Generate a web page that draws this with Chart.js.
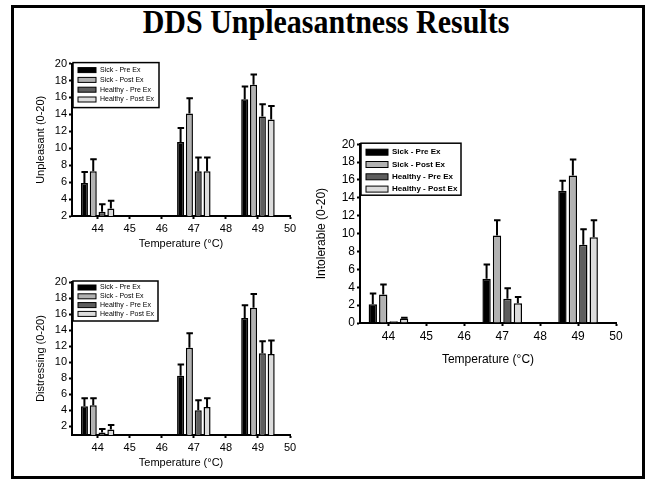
<!DOCTYPE html>
<html>
<head>
<meta charset="utf-8">
<script src="https://cdn.jsdelivr.net/npm/chart.js@4.4.1/dist/chart.umd.min.js"></script>
<style>
  html, body { margin: 0; padding: 0; background: #fff; }
  body { width: 649px; height: 480px; position: relative; overflow: hidden; }
  #frame { position: absolute; left: 11px; top: 5px; width: 634px; height: 474px; box-sizing: border-box; border: 3px solid #000; }
  #title { position: absolute; left: 11px; top: 2px; width: 630px; text-align: center;
           font-family: 'Liberation Serif', 'Times New Roman', serif; font-weight: bold; font-size: 30px; color: #000;
           transform: scaleY(1.15); transform-origin: 50% 0; }
  .box { position: absolute; }
  .box canvas { display: block; }
</style>
</head>
<body>
<div id="frame"></div>
<div id="title">DDS Unpleasantness Results</div>
<div class="box" style="left:30px; top:55px; width:270px; height:200px;"><canvas id="unpChart"></canvas></div>
<div class="box" style="left:30px; top:270px; width:270px; height:204px;"><canvas id="disChart"></canvas></div>
<div class="box" style="left:310px; top:135px; width:316px; height:236px;"><canvas id="intChart"></canvas></div>

<script>
// ============================================================
// DDS Unpleasantness Results – three grouped bar charts
// ============================================================

const temps        = [44, 47, 49];
const xTicks       = [44, 45, 46, 47, 48, 49, 50];
const seriesLabels = ['Sick - Pre Ex', 'Sick - Post Ex', 'Healthy - Pre Ex', 'Healthy - Post Ex'];
const seriesColors = ['#000000', '#b2b2b2', '#5e5e5e', '#dcdcdc'];

// Unpleasant (0-20)
const unpSickPre        = [5.9, 10.75, 15.8];
const unpSickPost       = [7.3, 14.1, 17.5];
const unpHealthyPre     = [2.5, 7.3, 13.75];
const unpHealthyPost    = [2.9, 7.3, 13.4];
const unpSickPreErr     = [1.3, 1.65, 1.5];
const unpSickPostErr    = [1.4, 1.8, 1.2];
const unpHealthyPreErr  = [0.9, 1.6, 1.45];
const unpHealthyPostErr = [0.9, 1.6, 1.6];
const unpTicks          = [2, 4, 6, 8, 10, 12, 14, 16, 18, 20];

// Distressing (0-20)
const disSickPre        = [4.5, 8.3, 15.5];
const disSickPost       = [4.6, 11.8, 16.8];
const disHealthyPre     = [1.2, 4.0, 11.1];
const disHealthyPost    = [1.6, 4.4, 11.0];
const disSickPreErr     = [1.0, 1.4, 1.6];
const disSickPostErr    = [0.9, 1.8, 1.7];
const disHealthyPreErr  = [0.45, 1.25, 1.5];
const disHealthyPostErr = [0.55, 1.1, 1.7];
const disTicks          = [2, 4, 6, 8, 10, 12, 14, 16, 18, 20];

// Intolerable (0-20)
const intSickPre        = [2.1, 4.95, 14.8];
const intSickPost       = [3.2, 9.8, 16.5];
const intHealthyPre     = [0.2, 2.7, 8.75];
const intHealthyPost    = [0.5, 2.2, 9.6];
const intSickPreErr     = [1.2, 1.6, 1.1];
const intSickPostErr    = [1.1, 1.7, 1.8];
const intHealthyPreErr  = [0, 1.2, 1.75];
const intHealthyPostErr = [0.1, 0.7, 1.9];
const intTicks          = [0, 2, 4, 6, 8, 10, 12, 14, 16, 18, 20];

const FONT = "'Liberation Sans', Arial, sans-serif";

/* ── Error bars (upper only, T cap) ─────────────────────── */
const errorBarPlugin = {
  id: 'errorBars',
  afterDatasetsDraw(chart) {
    const ctx = chart.ctx;
    const yScale = chart.scales.y;
    ctx.save();
    ctx.strokeStyle = '#000';
    ctx.lineWidth = 2;
    chart.data.datasets.forEach((ds, di) => {
      const meta = chart.getDatasetMeta(di);
      meta.data.forEach((bar, i) => {
        const err = ds.errors[i];
        if (!err) return;
        const top = yScale.getPixelForValue(ds.data[i].y + err);
        ctx.beginPath();
        ctx.moveTo(bar.x, bar.y);
        ctx.lineTo(bar.x, top);
        ctx.moveTo(bar.x - 3, top);
        ctx.lineTo(bar.x + 3.5, top);
        ctx.stroke();
      });
    });
    ctx.restore();
  }
};

/* ── Boxed legend inside the plot area ──────────────────── */
const boxLegendPlugin = {
  id: 'boxLegend',
  afterDraw(chart, args, opts) {
    const ctx = chart.ctx;
    const a = chart.chartArea;
    const x0 = a.left + 1, y0 = a.top - 1;
    ctx.save();
    ctx.fillStyle = '#fff';
    ctx.fillRect(x0, y0, opts.w, opts.h);
    ctx.strokeStyle = '#000';
    ctx.lineWidth = 1.5;
    ctx.strokeRect(x0, y0, opts.w, opts.h);
    ctx.font = opts.font;
    ctx.textBaseline = 'middle';
    chart.data.datasets.forEach((ds, i) => {
      const cy = y0 + opts.padTop + i * opts.rowH;
      ctx.fillStyle = ds.backgroundColor;
      ctx.fillRect(x0 + 5, cy - opts.swH / 2, opts.swW, opts.swH);
      ctx.lineWidth = 1;
      ctx.strokeStyle = '#000';
      ctx.strokeRect(x0 + 5, cy - opts.swH / 2, opts.swW, opts.swH);
      ctx.fillStyle = '#000';
      ctx.fillText(ds.label, x0 + 9 + opts.swW, cy);
    });
    ctx.restore();
  }
};

function makeDatasets(values, errors) {
  return values.map((vals, i) => ({
    label: seriesLabels[i],
    data: temps.map((t, j) => ({ x: t, y: vals[j] })),
    errors: errors[i],
    backgroundColor: seriesColors[i],
    borderColor: '#000',
    borderWidth: 1.5,
    categoryPercentage: 1.1,
    barPercentage: 0.8
  }));
}

function makeChart(id, cfg) {
  const tickFont = { family: FONT, size: cfg.fontSize };
  return new Chart(document.getElementById(id), {
    type: 'bar',
    data: { datasets: makeDatasets(cfg.values, cfg.errors) },
    options: {
      responsive: true,
      maintainAspectRatio: false,
      animation: false,
      layout: { padding: cfg.padding },
      plugins: {
        legend: { display: false },
        tooltip: { enabled: false },
        boxLegend: cfg.legend
      },
      scales: {
        x: {
          type: 'linear',
          offset: false,
          min: cfg.xMin, max: 50,
          afterBuildTicks: axis => { axis.ticks = xTicks.map(v => ({ value: v })); },
          afterFit: axis => { axis.height = cfg.xHeight; },
          grid: { offset: false, drawOnChartArea: false, drawTicks: true, tickLength: 3, tickWidth: 2, color: '#000' },
          border: { display: true, color: '#000', width: 2 },
          ticks: { color: '#000', font: tickFont, padding: 3, maxRotation: 0 },
          title: { display: true, text: 'Temperature (°C)', color: '#000', font: tickFont, padding: { top: 2, bottom: 4 } }
        },
        y: {
          min: cfg.yMin, max: 20,
          afterBuildTicks: axis => { axis.ticks = cfg.yTicks.map(v => ({ value: v })); },
          afterFit: axis => { axis.width = cfg.yWidth; },
          grid: { drawOnChartArea: false, drawTicks: true, tickLength: 3, tickWidth: 2, color: '#000' },
          border: { display: true, color: '#000', width: 2 },
          ticks: { color: '#000', font: tickFont, padding: 2 },
          title: { display: true, text: cfg.yTitle, color: '#000', font: tickFont, padding: { top: 4, bottom: 2 } }
        }
      }
    },
    plugins: [errorBarPlugin, boxLegendPlugin]
  });
}

document.addEventListener('DOMContentLoaded', () => {
  const smallLegend = { w: 86, h: 45, padTop: 7.5, rowH: 9.8, swW: 18, swH: 5, font: "7px " + FONT };

  makeChart('unpChart', {
    values: [unpSickPre, unpSickPost, unpHealthyPre, unpHealthyPost],
    errors: [unpSickPreErr, unpSickPostErr, unpHealthyPreErr, unpHealthyPostErr],
    yTitle: 'Unpleasant (0-20)', yTicks: unpTicks, yMin: 2, xMin: 43.2,
    fontSize: 11, yWidth: 42, xHeight: 39,
    padding: { top: 7, right: 10, left: 0, bottom: 0 },
    legend: smallLegend
  });

  makeChart('disChart', {
    values: [disSickPre, disSickPost, disHealthyPre, disHealthyPost],
    errors: [disSickPreErr, disSickPostErr, disHealthyPreErr, disHealthyPostErr],
    yTitle: 'Distressing (0-20)', yTicks: disTicks, yMin: 0.9, xMin: 43.2,
    fontSize: 11, yWidth: 42, xHeight: 39,
    padding: { top: 12, right: 10, left: 0, bottom: 0 },
    legend: { w: 85, h: 40, padTop: 6.5, rowH: 8.8, swW: 18, swH: 5, font: "7px " + FONT }
  });

  makeChart('intChart', {
    values: [intSickPre, intSickPost, intHealthyPre, intHealthyPost],
    errors: [intSickPreErr, intSickPostErr, intHealthyPreErr, intHealthyPostErr],
    yTitle: 'Intolerable (0-20)', yTicks: intTicks, yMin: 0, xMin: 43.25,
    fontSize: 12, yWidth: 50, xHeight: 48,
    padding: { top: 9, right: 10, left: 0, bottom: 0 },
    legend: { w: 100, h: 52, padTop: 9, rowH: 12.3, swW: 22, swH: 6, font: "bold 8px " + FONT }
  });
});
</script>
</body>
</html>
